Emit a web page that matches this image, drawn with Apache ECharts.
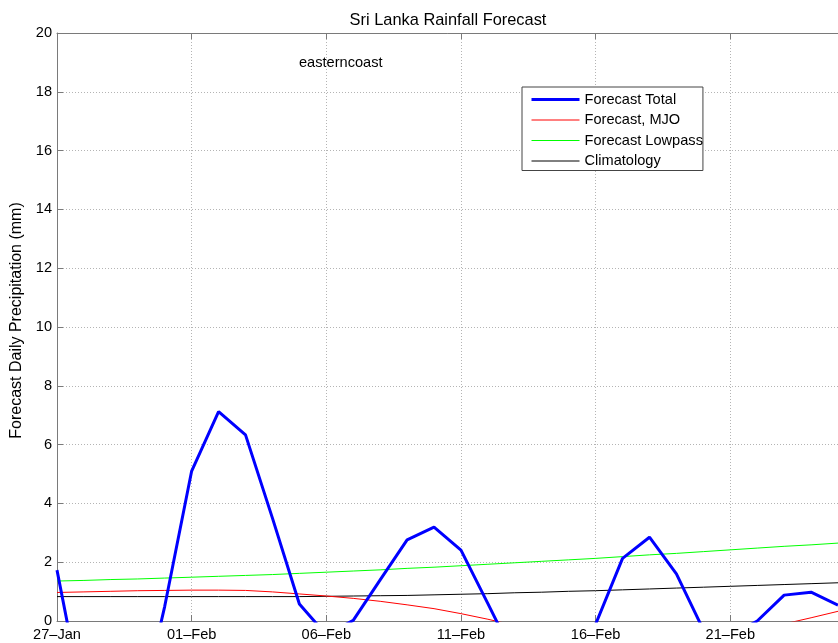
<!DOCTYPE html>
<html>
<head>
<meta charset="utf-8">
<script src="https://cdn.jsdelivr.net/npm/echarts@6/dist/echarts.min.js"></script>
<style>html,body{margin:0;padding:0;background:#fff;}#c{width:838px;height:643px;}</style>
</head>
<body>
<div id="c"></div>
<script>
// days since 27-Jan
var days = [0,1,2,3,4,5,6,7,8,9,10,11,12,13,14,15,16,17,18,19,20,21,22,23,24,25,26,27,28,29];
var xTickLabels = ['27\u2013Jan','01\u2013Feb','06\u2013Feb','11\u2013Feb','16\u2013Feb','21\u2013Feb','26\u2013Feb'];
var yTicks = [0,2,4,6,8,10,12,14,16,18,20];
var forecastTotal = [1.73,-2.95,-3.2,-3.5,0.5,5.1,7.12,6.33,3.5,0.58,-0.47,0.02,1.4,2.76,3.19,2.41,0.59,-1.25,-2.0,-1.5,-0.11,2.13,2.85,1.6,-0.3,-0.5,0.0,0.88,0.98,0.54];
var forecastMJO = [0.97,0.99,1.01,1.03,1.04,1.05,1.05,1.04,0.99,0.92,0.85,0.77,0.67,0.55,0.42,0.25,0.06,-0.15,-0.35,-0.5,-0.6,-0.65,-0.65,-0.6,-0.5,-0.35,-0.2,-0.1,0.11,0.33];
var forecastLowpass = [1.36,1.38,1.41,1.43,1.46,1.49,1.52,1.55,1.58,1.62,1.66,1.70,1.74,1.79,1.83,1.88,1.93,1.98,2.03,2.08,2.13,2.19,2.25,2.30,2.36,2.42,2.48,2.54,2.59,2.65];
var climatology = [0.83,0.83,0.83,0.83,0.83,0.83,0.83,0.83,0.83,0.83,0.84,0.85,0.86,0.87,0.89,0.91,0.93,0.96,0.98,1.01,1.03,1.06,1.09,1.12,1.15,1.18,1.21,1.24,1.27,1.30];
var seriesNames = ['Forecast Total','Forecast, MJO','Forecast Lowpass','Climatology'];
var seriesColors = ['#0000ff','#ff0000','#00ff00','#000000'];
var seriesWidths = [3,1,1,1];
var regionLabel = 'easterncoast';

function pairs(v){ return days.map(function(d,i){ return [d, v[i]]; }); }

var font = 'Liberation Sans, Arial, Helvetica, sans-serif';
var chart = echarts.init(document.getElementById('c'));
var gridLine = {show:true, lineStyle:{color:'#b4b4b4', type:[1,2], width:1}};
var axisCol = '#7a7a7a';
chart.setOption({
  animation:false,
  backgroundColor:'#fff',
  title:{text:'Sri Lanka Rainfall Forecast', left:443, top:7, textAlign:'center',
    textStyle:{fontFamily:font, fontSize:16.4, fontWeight:'normal', color:'#000'}},
  graphic:[{type:'text', left:299, top:55, style:{text:regionLabel, fontFamily:font, fontSize:14.6, fill:'#000'}}],
  legend:{
    orient:'vertical', left:522, top:87, padding:[5,0,2,8], itemGap:5.5,
    itemWidth:48, itemHeight:14, backgroundColor:'#fff', borderColor:'#444', borderWidth:1,
    itemStyle:{color:'rgba(0,0,0,0)', borderColor:'rgba(0,0,0,0)', borderWidth:0},
    textStyle:{fontFamily:font, fontSize:14.6, lineHeight:13, height:13, color:'#000'},
    data:seriesNames.map(function(n,i){ return {name:n, lineStyle:{width:seriesWidths[i], color:seriesColors[i]}}; })
  },
  grid:{left:57, top:33, width:784, height:588, containLabel:false},
  xAxis:[{
    type:'value', min:0, max:29, interval:5, position:'bottom',
    axisLine:{show:true, lineStyle:{color:axisCol, width:1}},
    axisTick:{show:true, inside:true, length:6, lineStyle:{color:axisCol}},
    axisLabel:{fontFamily:font, fontSize:14.6, color:'#000', margin:6, showMaxLabel:false,
      formatter:function(v){ return (v % 5 === 0) ? xTickLabels[v/5] : ''; }},
    splitLine:gridLine
  },{
    type:'value', min:0, max:29, interval:5, position:'top',
    axisLine:{show:true, lineStyle:{color:axisCol, width:1}},
    axisTick:{show:true, inside:true, length:6, lineStyle:{color:axisCol}},
    axisLabel:{show:false}, splitLine:{show:false}
  }],
  yAxis:{
    type:'value', min:yTicks[0], max:yTicks[yTicks.length-1], interval:2,
    name:'Forecast Daily Precipitation (mm)', nameLocation:'middle', nameGap:25,
    nameTextStyle:{fontFamily:font, fontSize:16, color:'#000', padding:[0,0,0,13]},
    axisLine:{show:true, lineStyle:{color:axisCol, width:1}},
    axisTick:{show:true, inside:true, length:6, lineStyle:{color:axisCol}},
    axisLabel:{fontFamily:font, fontSize:14.6, color:'#000', margin:5},
    splitLine:gridLine
  },
  series:[
    {name:seriesNames[0], type:'line', data:pairs(forecastTotal), symbol:'none', clip:true, z:5,
      lineStyle:{color:seriesColors[0], width:seriesWidths[0]}, itemStyle:{color:seriesColors[0]}},
    {name:seriesNames[1], type:'line', data:pairs(forecastMJO), symbol:'none', clip:true, z:4,
      lineStyle:{color:seriesColors[1], width:seriesWidths[1]}, itemStyle:{color:seriesColors[1]}},
    {name:seriesNames[2], type:'line', data:pairs(forecastLowpass), symbol:'none', clip:true, z:3,
      lineStyle:{color:seriesColors[2], width:seriesWidths[2]}, itemStyle:{color:seriesColors[2]}},
    {name:seriesNames[3], type:'line', data:pairs(climatology), symbol:'none', clip:true, z:3,
      lineStyle:{color:seriesColors[3], width:seriesWidths[3]}, itemStyle:{color:seriesColors[3]}}
  ]
});
</script>
</body>
</html>
